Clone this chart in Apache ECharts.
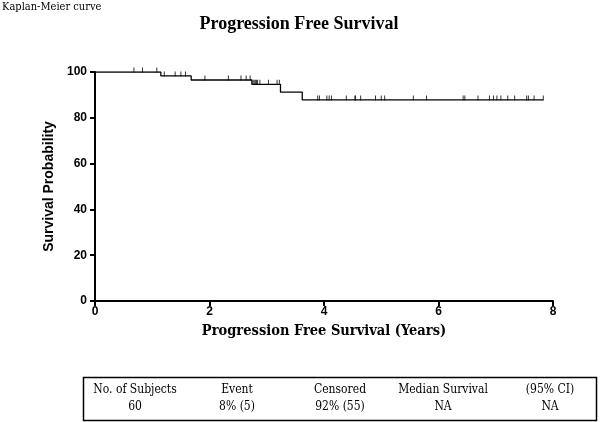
<!DOCTYPE html>
<html><head><meta charset="utf-8">
<script src="https://cdn.jsdelivr.net/npm/echarts@6/dist/echarts.min.js"></script>
<style>html,body{margin:0;padding:0;background:#fff}#c{width:600px;height:422px}</style>
</head><body><div id="c"></div>
<script>
// Event times (years) and survival level after each event (%)
const eventTimes = [1.15, 1.68, 2.74, 3.24, 3.62];
const eventLevels = [98.3, 96.5, 94.6, 91.2, 87.8];
const lastFollowUp = 7.83;
// Censored observation times (years)
const censorTimes = [0.68, 0.83, 1.08,
  1.21, 1.40, 1.50, 1.58,
  1.92, 2.33, 2.55, 2.64, 2.71,
  2.76, 2.78, 2.80, 2.82, 2.84, 2.88, 3.03, 3.18, 3.22,
  3.89, 3.92, 4.05, 4.09, 4.13, 4.39, 4.54, 4.55, 4.64, 4.90, 5.00, 5.06,
  5.56, 5.79, 6.43, 6.46, 6.69, 6.89, 6.96, 7.02, 7.09, 7.21, 7.33, 7.54, 7.57, 7.67, 7.83];
const xTicks = [0, 2, 4, 6, 8];
const yTicks = [0, 20, 40, 60, 80, 100];
const tableHeaders = ['No. of Subjects', 'Event', 'Censored', 'Median Survival', '(95% CI)'];
const tableValues = ['60', '8% (5)', '92% (55)', 'NA', 'NA'];

function levelAt(t) {
  let s = 100;
  for (let i = 0; i < eventTimes.length; i++) if (eventTimes[i] <= t) s = eventLevels[i];
  return s;
}
const kmData = [[0, 100]];
eventTimes.forEach((t, i) => kmData.push([t, eventLevels[i]]));
kmData.push([lastFollowUp, levelAt(lastFollowUp)]);
const censorData = censorTimes.map(t => [t, levelAt(t)]);

const serif = '"DejaVu Serif Condensed", "DejaVu Serif", serif';
const titleSerif = '"Liberation Serif", serif';
const sans = '"Liberation Sans", Arial, sans-serif';

const colX = [135, 237, 340, 443, 550];
const graphics = [
  { type: 'rect', shape: { x: 83.5, y: 377.5, width: 513, height: 43 },
    style: { fill: 'none', stroke: '#000', lineWidth: 1.5 } }
];
tableHeaders.forEach((h, i) => graphics.push({ type: 'text', x: colX[i], y: 390,
  style: { text: h, font: '12px ' + serif, fill: '#000', textAlign: 'center', textVerticalAlign: 'middle' } }));
tableValues.forEach((v, i) => graphics.push({ type: 'text', x: colX[i], y: 407,
  style: { text: v, font: '12px ' + serif, fill: '#000', textAlign: 'center', textVerticalAlign: 'middle' } }));
graphics.push({ type: 'text', x: 2, y: 7, style: { text: 'Kaplan-Meier curve', font: '11px ' + serif, fill: '#000', textVerticalAlign: 'middle' } });

const chart = echarts.init(document.getElementById('c'), null, { renderer: 'canvas' });
chart.setOption({
  animation: false,
  backgroundColor: '#fff',
  title: { text: 'Progression Free Survival', left: 294, top: 10, textAlign: 'center',
    textStyle: { fontFamily: titleSerif, fontWeight: 'bold', fontSize: 18, color: '#000' } },
  grid: { left: 95, right: 47, top: 72, bottom: 121 },
  xAxis: {
    type: 'value', min: xTicks[0], max: xTicks[xTicks.length - 1], interval: 2,
    name: 'Progression Free Survival (Years)', nameLocation: 'middle', nameGap: 23,
    nameTextStyle: { fontFamily: serif, fontWeight: 'bold', fontSize: 14.5, color: '#000' },
    axisLine: { onZero: false, lineStyle: { color: '#000', width: 2 } },
    axisTick: { length: 5, lineStyle: { color: '#000', width: 2 } },
    axisLabel: { fontFamily: sans, fontWeight: 'bold', fontSize: 12, color: '#000', margin: 5 },
    splitLine: { show: false }
  },
  yAxis: {
    type: 'value', min: yTicks[0], max: yTicks[yTicks.length - 1], interval: 20,
    name: 'Survival Probability', nameLocation: 'middle', nameGap: 38,
    nameTextStyle: { fontFamily: sans, fontWeight: 'bold', fontSize: 14, color: '#000' },
    axisLine: { show: true, onZero: false, lineStyle: { color: '#000', width: 2 } },
    axisTick: { show: true, length: 5, lineStyle: { color: '#000', width: 2 } },
    axisLabel: { fontFamily: sans, fontWeight: 'bold', fontSize: 12, color: '#000', margin: 8 },
    splitLine: { show: false }
  },
  series: [
    { type: 'line', step: 'end', data: kmData, symbol: 'none',
      lineStyle: { color: '#000', width: 1.3 }, z: 3 },
    { type: 'scatter', data: censorData, symbol: 'rect', symbolSize: [1, 5], symbolOffset: [0, -2],
      itemStyle: { color: '#000' }, z: 4 }
  ],
  graphic: graphics
});
</script></body></html>
